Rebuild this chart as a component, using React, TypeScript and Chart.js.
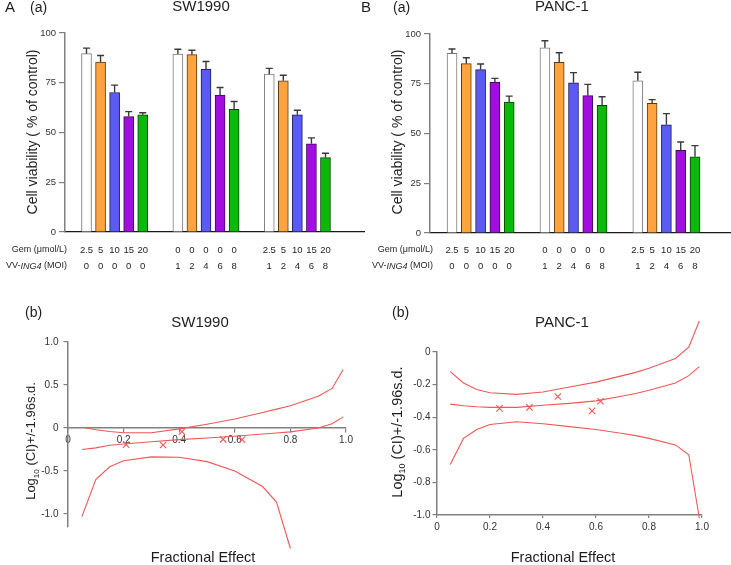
import React, { useEffect, useRef } from 'react';
import { Chart, registerables } from 'chart.js';

Chart.register(...registerables);

const FONT = '"Liberation Sans", Arial, Helvetica, sans-serif';
const W = 731;
const H = 565;

// ---------- (a) cell viability bar charts ----------
const gemDose = ['2.5', '5', '10', '15', '20', '0', '0', '0', '0', '0', '2.5', '5', '10', '15', '20'];
const vvMoi = ['0', '0', '0', '0', '0', '1', '2', '4', '6', '8', '1', '2', '4', '6', '8'];
const sw1990Viability = [89.6, 85.4, 70.1, 58.0, 58.9, 89.4, 89.1, 81.9, 68.8, 61.7, 79.3, 76.0, 58.9, 44.3, 37.4];
const sw1990ViabilitySD = [2.8, 3.3, 3.7, 2.5, 1.0, 2.4, 2.2, 3.8, 3.8, 3.9, 2.9, 2.8, 2.3, 3.0, 2.2];
const panc1Viability = [90.3, 85.1, 82.1, 75.9, 65.8, 93.1, 85.8, 75.5, 69.0, 64.2, 76.5, 65.2, 54.4, 41.6, 38.3];
const panc1ViabilitySD = [2.2, 3.0, 2.8, 1.8, 3.0, 3.5, 4.8, 5.1, 5.7, 4.3, 4.3, 1.8, 5.6, 4.1, 5.6];
const viabilityTicks = [0, 25, 50, 75, 100];
const barFills = ['#ffffff', '#ffa33f', '#5a5af5', '#a30ee0', '#0ab90a'];
const barEdges = ['#7a7a7a', '#5a3a10', '#1a1a55', '#3a0a50', '#0a400a'];

// ---------- (b) combination index plots ----------
const fracEffect = [0.05, 0.1, 0.15, 0.2, 0.3, 0.4, 0.5, 0.6, 0.7, 0.75, 0.8, 0.9, 0.95, 0.99];
const sw1990Upper = [0.01, -0.02, -0.04, -0.055, -0.055, -0.01, 0.045, 0.105, 0.18, 0.22, 0.26, 0.37, 0.46, 0.68];
const sw1990Mid = [-0.25, -0.23, -0.2, -0.185, -0.16, -0.135, -0.115, -0.095, -0.07, -0.058, -0.045, 0.0, 0.05, 0.13];
const sw1990Lower = [-1.03, -0.6, -0.45, -0.38, -0.335, -0.34, -0.39, -0.5, -0.68, -0.86, -1.4, null, null, null];
const sw1990PointFa = [0.209, 0.342, 0.41, 0.558, 0.626];
const sw1990PointCI = [-0.193, -0.197, -0.042, -0.131, -0.135];
const panc1Upper = [-0.12, -0.19, -0.23, -0.25, -0.26, -0.245, -0.215, -0.185, -0.145, -0.125, -0.1, -0.04, 0.03, 0.19];
const panc1Mid = [-0.32, -0.33, -0.336, -0.34, -0.34, -0.327, -0.315, -0.3, -0.27, -0.255, -0.235, -0.19, -0.145, -0.09];
const panc1Lower = [-0.69, -0.53, -0.475, -0.445, -0.428, -0.44, -0.458, -0.475, -0.5, -0.513, -0.53, -0.57, -0.63, -1.02];
const panc1PointFa = [0.236, 0.349, 0.456, 0.585, 0.617];
const panc1PointCI = [-0.346, -0.34, -0.273, -0.361, -0.302];
const fracTicks = [0, 0.2, 0.4, 0.6, 0.8, 1.0];
const sw1990CITicks = [-1, -0.5, 0, 0.5, 1];
const panc1CITicks = [-1, -0.8, -0.6, -0.4, -0.2, 0];

const GROUP_STRIDE = 6.5;
const barPos = (i: number) => Math.floor(i / 5) * GROUP_STRIDE + (i % 5);
const LINE_RED = '#f05858';
const AXIS_GRAY = '#808080';
const TEXT = '#1e1e1e';
const GEM_ROW_Y = 250;
const MOI_ROW_Y = 266;

Chart.defaults.font.family = FONT;

function fmt1(v: number) {
  return v === 0 ? '0' : v.toFixed(1);
}

function text(ctx: CanvasRenderingContext2D, s: string, x: number, y: number, size: number, align: CanvasTextAlign = 'left') {
  ctx.font = `${size}px ${FONT}`;
  ctx.textAlign = align;
  ctx.textBaseline = 'middle';
  ctx.fillText(s, x, y);
}

function vText(ctx: CanvasRenderingContext2D, parts: { s: string; size: number; dy?: number }[], baseX: number, centerY: number) {
  ctx.save();
  ctx.translate(baseX, centerY);
  ctx.rotate(-Math.PI / 2);
  ctx.textBaseline = 'alphabetic';
  ctx.textAlign = 'left';
  let total = 0;
  const widths = parts.map((p) => {
    ctx.font = `${p.size}px ${FONT}`;
    const w = ctx.measureText(p.s).width;
    total += w;
    return w;
  });
  let x = -total / 2;
  parts.forEach((p, i) => {
    ctx.font = `${p.size}px ${FONT}`;
    ctx.fillText(p.s, x, p.dy || 0);
    x += widths[i];
  });
  ctx.restore();
}

type BarPanel = {
  values: number[];
  sd: number[];
  left: number;
  right: number;
  top: number;
  bottom: number;
  xMin: number;
  xMax: number;
  letter: string;
  letterX: number;
  tagX: number;
  title: string;
  titleX: number;
  yTitleX: number;
  headerRight: number;
};

function makeBarPanel(canvas: HTMLCanvasElement, p: BarPanel) {
  const yW = 65;
  const xH = 50;
  const plugin = {
    id: 'barExtras',
    afterDatasetsDraw(chart: any) {
      const ctx = chart.ctx as CanvasRenderingContext2D;
      const ys = chart.scales.y;
      const meta = chart.getDatasetMeta(0);
      ctx.save();
      ctx.strokeStyle = '#3a3a3a';
      ctx.lineWidth = 1.4;
      meta.data.forEach((bar: any, i: number) => {
        const top = ys.getPixelForValue(p.values[i] + p.sd[i]);
        ctx.beginPath();
        ctx.moveTo(bar.x, bar.y);
        ctx.lineTo(bar.x, top);
        ctx.moveTo(bar.x - 3.5, top);
        ctx.lineTo(bar.x + 3.5, top);
        ctx.stroke();
      });
      ctx.restore();
    },
    afterDraw(chart: any) {
      const ctx = chart.ctx as CanvasRenderingContext2D;
      const xs = chart.scales.x;
      ctx.save();
      ctx.fillStyle = TEXT;
      text(ctx, p.letter, p.letterX, 8, 15);
      text(ctx, '(a)', p.tagX, 8, 14);
      text(ctx, p.title, p.titleX, 7, 15, 'center');
      vText(ctx, [{ s: 'Cell viability ( % of control)', size: 14 }], p.yTitleX, 132);
      // row headers
      text(ctx, 'Gem (μmol/L)', p.headerRight, GEM_ROW_Y, 9, 'right');
      const parts = [
        { s: 'VV-', f: `9px ${FONT}` },
        { s: 'ING4', f: `italic 9px ${FONT}` },
        { s: ' (MOI)', f: `9px ${FONT}` },
      ];
      let tot = 0;
      const ws = parts.map((q) => {
        ctx.font = q.f;
        const w = ctx.measureText(q.s).width;
        tot += w;
        return w;
      });
      let x = p.headerRight - tot;
      ctx.textAlign = 'left';
      ctx.textBaseline = 'middle';
      parts.forEach((q, i) => {
        ctx.font = q.f;
        ctx.fillText(q.s, x, MOI_ROW_Y);
        x += ws[i];
      });
      // tick rows
      p.values.forEach((_, i) => {
        const px = xs.getPixelForValue(barPos(i));
        text(ctx, gemDose[i], px, GEM_ROW_Y, 9.5, 'center');
        text(ctx, vvMoi[i], px, MOI_ROW_Y, 9.5, 'center');
      });
      ctx.restore();
    },
  };
  return new Chart(canvas, {
    type: 'bar',
    data: {
      datasets: [
        {
          data: p.values.map((v, i) => ({ x: barPos(i), y: v })),
          backgroundColor: p.values.map((_, i) => barFills[i % 5]),
          borderColor: p.values.map((_, i) => barEdges[i % 5]),
          borderWidth: 1,
          barThickness: 10,
        } as any,
      ],
    },
    options: {
      animation: false,
      responsive: false,
      devicePixelRatio: 1,
      layout: { padding: { left: p.left - yW, right: W - p.right, top: p.top, bottom: H - p.bottom - xH } },
      plugins: { legend: { display: false }, tooltip: { enabled: false } },
      scales: {
        x: {
          type: 'linear',
          min: p.xMin,
          max: p.xMax,
          offset: false,
          grid: { display: false, drawTicks: false },
          ticks: { display: false },
          border: { display: true, color: '#1a1a1a', width: 1.2 },
          afterFit: (s: any) => {
            s.height = xH;
          },
        },
        y: {
          min: 0,
          max: 100,
          afterBuildTicks: (s: any) => {
            s.ticks = viabilityTicks.map((v) => ({ value: v }));
          },
          ticks: { font: { size: 9.5, family: FONT }, color: '#333', padding: 3 },
          grid: { display: true, drawOnChartArea: false, drawTicks: true, tickLength: 6, color: AXIS_GRAY, lineWidth: 1.2 },
          border: { display: true, color: AXIS_GRAY, width: 1.5 },
          afterFit: (s: any) => {
            s.width = yW;
          },
        },
      },
    } as any,
    plugins: [plugin],
  });
}

type CIPanel = {
  upper: (number | null)[];
  mid: (number | null)[];
  lower: (number | null)[];
  ptX: number[];
  ptY: number[];
  left: number;
  right: number;
  top: number;
  bottom: number;
  yMin: number;
  yMax: number;
  yTicks: number[];
  yW: number;
  xH: number;
  xOnZero: boolean;
  yPad: number;
  xPad: number;
  xTickLen: number;
  title: string;
  titleX: number;
  tagX: number;
  feX: number;
  yTitleX: number;
  yTitleY: number;
  yTitleSize: number;
};

function makeCIPanel(canvas: HTMLCanvasElement, p: CIPanel) {
  const line = (vals: (number | null)[]) => ({
    data: fracEffect.map((f, i) => ({ x: f, y: vals[i] })),
    showLine: true,
    borderColor: LINE_RED,
    borderWidth: 1.1,
    pointRadius: 0,
    tension: 0,
    clip: false,
    spanGaps: false,
  });
  const plugin = {
    id: 'ciExtras',
    afterDraw(chart: any) {
      const ctx = chart.ctx as CanvasRenderingContext2D;
      ctx.save();
      ctx.fillStyle = TEXT;
      text(ctx, '(b)', p.tagX, 313, 14);
      text(ctx, p.title, p.titleX, 323, 15, 'center');
      text(ctx, 'Fractional Effect', p.feX, 558, 14.5, 'center');
      vText(
        ctx,
        [
          { s: 'Log', size: p.yTitleSize },
          { s: '10', size: p.yTitleSize * 0.62, dy: 3.5 },
          { s: ' (CI)+/-1.96s.d.', size: p.yTitleSize },
        ],
        p.yTitleX,
        p.yTitleY
      );
      ctx.restore();
    },
  };
  return new Chart(canvas, {
    type: 'scatter',
    data: {
      datasets: [
        line(p.upper),
        line(p.mid),
        line(p.lower),
        {
          data: p.ptX.map((x, i) => ({ x, y: p.ptY[i] })),
          showLine: false,
          pointStyle: 'crossRot',
          pointRadius: 4.5,
          pointBorderColor: LINE_RED,
          pointBackgroundColor: 'rgba(0,0,0,0)',
          pointBorderWidth: 1.1,
          clip: false,
        },
      ] as any,
    },
    options: {
      animation: false,
      responsive: false,
      devicePixelRatio: 1,
      layout: { padding: { left: p.left - p.yW, right: W - p.right, top: p.top, bottom: H - p.bottom - p.xH } },
      plugins: { legend: { display: false }, tooltip: { enabled: false } },
      scales: {
        x: {
          type: 'linear',
          position: p.xOnZero ? { y: 0 } : 'bottom',
          min: 0,
          max: 1,
          afterBuildTicks: (s: any) => {
            s.ticks = fracTicks.map((v) => ({ value: v }));
          },
          ticks: { font: { size: 10, family: FONT }, color: '#333', padding: p.xPad, maxRotation: 0, autoSkip: false, callback: (v: any) => fmt1(Number(v)) },
          grid: { display: true, drawOnChartArea: false, drawTicks: true, tickLength: p.xTickLen, color: AXIS_GRAY, lineWidth: 1.2 },
          border: { display: true, color: AXIS_GRAY, width: 1.5 },
          afterFit: (s: any) => {
            s.height = p.xH;
          },
        },
        y: {
          type: 'linear',
          min: p.yMin,
          max: p.yMax,
          afterBuildTicks: (s: any) => {
            s.ticks = p.yTicks.map((v) => ({ value: v }));
          },
          ticks: { font: { size: 10, family: FONT }, color: '#333', padding: p.yPad, callback: (v: any) => fmt1(Number(v)) },
          grid: { display: true, drawOnChartArea: false, drawTicks: true, tickLength: 4.5, color: AXIS_GRAY, lineWidth: 1.2 },
          border: { display: true, color: AXIS_GRAY, width: 1.5 },
          afterFit: (s: any) => {
            s.width = p.yW;
          },
        },
      },
    } as any,
    plugins: [plugin],
  });
}

export default function App() {
  const r1 = useRef<HTMLCanvasElement>(null);
  const r2 = useRef<HTMLCanvasElement>(null);
  const r3 = useRef<HTMLCanvasElement>(null);
  const r4 = useRef<HTMLCanvasElement>(null);

  useEffect(() => {
    const charts: Chart[] = [];
    charts.push(
      makeBarPanel(r1.current!, {
        values: sw1990Viability,
        sd: sw1990ViabilitySD,
        left: 65,
        right: 364,
        top: 33,
        bottom: 232,
        xMin: -1.53,
        xMax: 19.74,
        letter: 'A',
        letterX: 5,
        tagX: 30,
        title: 'SW1990',
        titleX: 201,
        yTitleX: 37,
        headerRight: 67,
      })
    );
    charts.push(
      makeBarPanel(r2.current!, {
        values: panc1Viability,
        sd: panc1ViabilitySD,
        left: 430,
        right: 730,
        top: 34,
        bottom: 233,
        xMin: -1.54,
        xMax: 19.45,
        letter: 'B',
        letterX: 361,
        tagX: 393,
        title: 'PANC-1',
        titleX: 562,
        yTitleX: 402,
        headerRight: 433,
      })
    );
    charts.push(
      makeCIPanel(r3.current!, {
        upper: sw1990Upper,
        mid: sw1990Mid,
        lower: sw1990Lower,
        ptX: sw1990PointFa,
        ptY: sw1990PointCI,
        left: 68,
        right: 346,
        top: 342,
        bottom: 527,
        yMin: -1.15,
        yMax: 1.0,
        yTicks: sw1990CITicks,
        yW: 68,
        xH: 0,
        xOnZero: true,
        yPad: 5,
        xPad: 2,
        xTickLen: 4,
        title: 'SW1990',
        titleX: 200,
        tagX: 25,
        feX: 203,
        yTitleX: 35,
        yTitleY: 441,
        yTitleSize: 13,
      })
    );
    charts.push(
      makeCIPanel(r4.current!, {
        upper: panc1Upper,
        mid: panc1Mid,
        lower: panc1Lower,
        ptX: panc1PointFa,
        ptY: panc1PointCI,
        left: 437,
        right: 702,
        top: 352,
        bottom: 515,
        yMin: -1.0,
        yMax: 0,
        yTicks: panc1CITicks,
        yW: 72,
        xH: 20,
        xOnZero: false,
        yPad: 2,
        xPad: 3,
        xTickLen: 3,
        title: 'PANC-1',
        titleX: 562,
        tagX: 392,
        feX: 563,
        yTitleX: 401.5,
        yTitleY: 432,
        yTitleSize: 14.5,
      })
    );
    return () => charts.forEach((c) => c.destroy());
  }, []);

  const cs: React.CSSProperties = { position: 'absolute', left: 0, top: 0, width: W, height: H };
  return (
    <div style={{ position: 'absolute', left: 0, top: 0, width: W, height: H, background: '#ffffff' }}>
      <canvas ref={r1} width={W} height={H} style={cs} />
      <canvas ref={r2} width={W} height={H} style={cs} />
      <canvas ref={r3} width={W} height={H} style={cs} />
      <canvas ref={r4} width={W} height={H} style={cs} />
    </div>
  );
}
